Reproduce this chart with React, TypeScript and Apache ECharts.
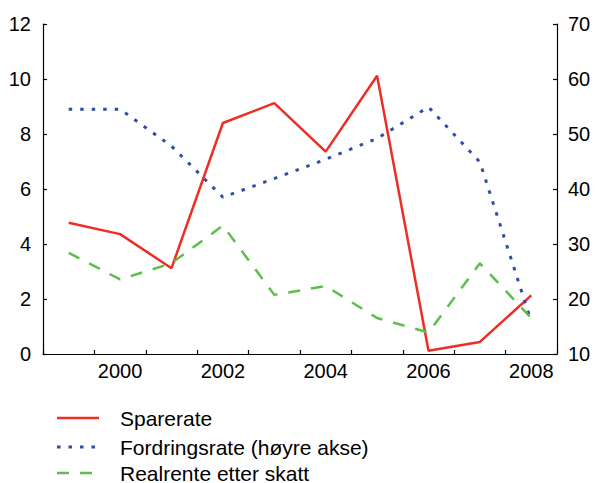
import React, { useEffect, useRef } from "react";
import * as echarts from "echarts";

const years = ["1999", "2000", "2001", "2002", "2003", "2004", "2005", "2006", "2007", "2008"];
const sparerate = [4.77, 4.36, 3.12, 8.4, 9.12, 7.36, 10.12, 0.12, 0.44, 2.13];
const fordringsrate = [54.5, 54.5, 47.8, 38.5, 41.9, 45.4, 49.2, 54.9, 44.9, 15.9];
const realrente = [3.68, 2.71, 3.3, 4.67, 2.15, 2.47, 1.31, 0.78, 3.3, 1.3];
const leftTicks = { min: 0, max: 12, interval: 2 };
const rightTicks = { min: 10, max: 70, interval: 10 };
const seriesNames = ["Sparerate", "Fordringsrate (høyre akse)", "Realrente etter skatt"];

export default function App() {
  const ref = useRef<HTMLDivElement>(null);
  useEffect(() => {
    if (!ref.current) return;
    const chart = echarts.init(ref.current, null, { renderer: "svg" });
    const font = "'Liberation Sans', Arial, sans-serif";
    const colors = ["#ee2d24", "#2e4fa3", "#5cbe4b"];
    const lineStyles: any[] = [
      { color: colors[0], width: 2.5 },
      { color: colors[1], width: 3, type: [3.5, 8] },
      { color: colors[2], width: 2.5, type: [12, 11] },
    ];
    const axisCommon = {
      axisLine: { show: true, lineStyle: { color: "#000", width: 1.2 } },
      axisTick: { show: true, inside: true, length: 4, lineStyle: { color: "#000", width: 1.2 } },
      splitLine: { show: false },
      axisLabel: { color: "#000", fontSize: 20, fontFamily: font },
    };
    const legendRowsY = [418, 447, 473];
    const legendGraphics = seriesNames.map((name, i) => ({
      type: "group",
      children: [
        {
          type: "line",
          shape: { x1: 57, y1: legendRowsY[i], x2: 99, y2: legendRowsY[i] },
          style: {
            stroke: lineStyles[i].color,
            lineWidth: lineStyles[i].width,
            lineDash: lineStyles[i].type || null,
          },
        },
        {
          type: "text",
          x: 120,
          y: legendRowsY[i],
          style: {
            text: name,
            fill: "#000",
            font: `21px ${font}`,
            lineHeight: 20,
            verticalAlign: "middle",
          },
        },
      ],
    }));
    chart.setOption({
      animation: false,
      textStyle: { fontFamily: font },
      grid: { left: 43, right: 38, top: 24, bottom: 129, containLabel: false },
      graphic: legendGraphics,
      xAxis: {
        type: "category",
        data: years,
        boundaryGap: true,
        axisLine: { show: true, lineStyle: { color: "#000", width: 1.2 } },
        axisTick: { show: true, inside: true, length: 4, interval: 0, lineStyle: { color: "#000", width: 1.2 } },
        axisLabel: {
          color: "#000",
          fontSize: 20,
          fontFamily: font,
          margin: 7,
          interval: (i: number) => i % 2 === 1,
        },
      },
      yAxis: [
        { type: "value", position: "left", ...leftTicks, ...axisCommon, axisLabel: { ...axisCommon.axisLabel, margin: 12 } },
        { type: "value", position: "right", ...rightTicks, ...axisCommon, axisLabel: { ...axisCommon.axisLabel, margin: 11 } },
      ],
      series: [
        { name: seriesNames[0], type: "line", data: sparerate, yAxisIndex: 0, symbol: "none", lineStyle: lineStyles[0], itemStyle: { color: colors[0] } },
        { name: seriesNames[1], type: "line", data: fordringsrate, yAxisIndex: 1, symbol: "none", lineStyle: lineStyles[1], itemStyle: { color: colors[1] } },
        { name: seriesNames[2], type: "line", data: realrente, yAxisIndex: 0, symbol: "none", lineStyle: lineStyles[2], itemStyle: { color: colors[2] } },
      ],
    });
    return () => chart.dispose();
  }, []);
  return <div ref={ref} style={{ width: 595, height: 483, position: "absolute", left: 0, top: 0 }} />;
}
